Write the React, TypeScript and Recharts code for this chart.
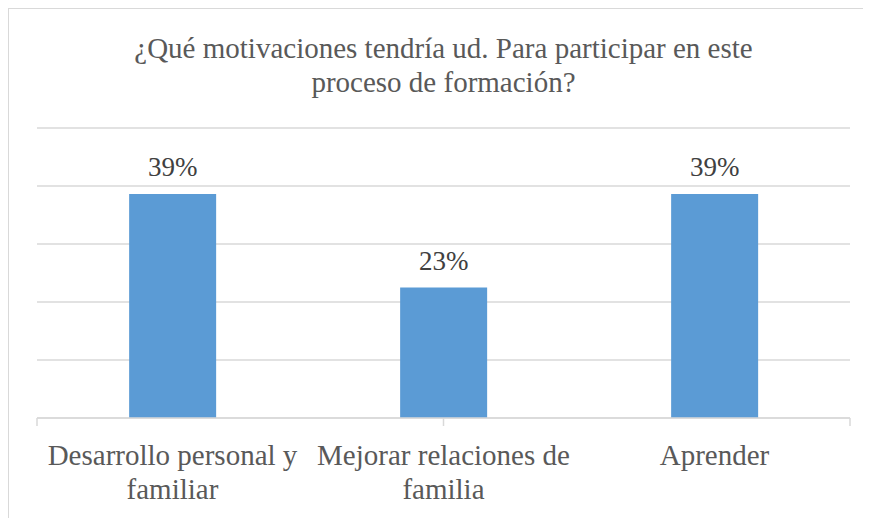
import React from "react";
import { BarChart, Bar, XAxis, YAxis, CartesianGrid, LabelList } from "recharts";

const categories = ["Desarrollo personal y familiar", "Mejorar relaciones de familia", "Aprender"];
const percentages = [38.6, 22.5, 38.6];
const yTicks = [0, 10, 20, 30, 40, 50];
const boundaryTicks = [0, 1, 2, 3];
const titleLines = ["¿Qué motivaciones tendría ud. Para participar en este", "proceso de formación?"];

const data = categories.map((name, i) => ({ name, value: percentages[i] }));

const FONT = "Liberation Serif";

function wrap(text: string, maxChars: number): string[] {
  const words = text.split(" ");
  const lines: string[] = [];
  let cur = "";
  for (const w of words) {
    const next = cur ? cur + " " + w : w;
    if (next.length > maxChars && cur) {
      lines.push(cur);
      cur = w;
    } else {
      cur = next;
    }
  }
  if (cur) lines.push(cur);
  return lines;
}

const CategoryTick = (props: any) => {
  const { x, y, payload } = props;
  const lines = wrap(String(payload.value), 22);
  return (
    <text x={x} y={y} textAnchor="middle" fill="#595959" fontSize={29} fontFamily={FONT}>
      {lines.map((l, i) => (
        <tspan key={i} x={x} dy={i === 0 ? 46 : 33.5}>
          {l}
        </tspan>
      ))}
    </text>
  );
};

const EmptyTick = () => <g />;

export default function App() {
  return (
    <div
      style={{
        position: "relative",
        width: 863,
        height: 510,
        borderTop: "1px solid #d9d9d9",
        borderLeft: "1px solid #d9d9d9",
        boxSizing: "border-box",
        background: "#fff",
      }}
    >
      <div
        style={{
          position: "absolute",
          left: 0,
          top: 22,
          width: 869,
          textAlign: "center",
          fontFamily: FONT,
          fontSize: 29,
          lineHeight: "34px",
          color: "#595959",
        }}
      >
        {titleLines.map((l, i) => (
          <div key={i}>{l}</div>
        ))}
      </div>
      <BarChart
        width={862}
        height={509}
        data={data}
        margin={{ top: 119, right: 21, left: 28, bottom: 0 }}
        barCategoryGap="34%"
      >
        <CartesianGrid vertical={false} stroke="#d9d9d9" strokeWidth={1.5} yAxisId="y" xAxisId="cat" />
        <XAxis
          xAxisId="b"
          type="number"
          domain={[0, 3]}
          ticks={boundaryTicks}
          height={1}
          axisLine={{ stroke: "#d9d9d9", strokeWidth: 1.5 }}
          tickLine={{ stroke: "#d9d9d9", strokeWidth: 1.5 }}
          tickSize={8}
          tick={EmptyTick}
          allowDataOverflow
        />
        <XAxis
          xAxisId="cat"
          dataKey="name"
          height={99}
          axisLine={false}
          tickLine={false}
          tickSize={0}
          tickMargin={0}
          interval={0}
          tick={<CategoryTick />}
        />
        <YAxis yAxisId="y" hide domain={[0, 50]} ticks={yTicks} />
        <Bar dataKey="value" fill="#5B9BD5" xAxisId="cat" yAxisId="y" isAnimationActive={false}>
          <LabelList
            dataKey="value"
            position="top"
            offset={18}
            formatter={(v: any) => `${Math.round(Number(v))}%`}
            fill="#404040"
            fontSize={27}
            fontFamily={FONT}
          />
        </Bar>
      </BarChart>
    </div>
  );
}
